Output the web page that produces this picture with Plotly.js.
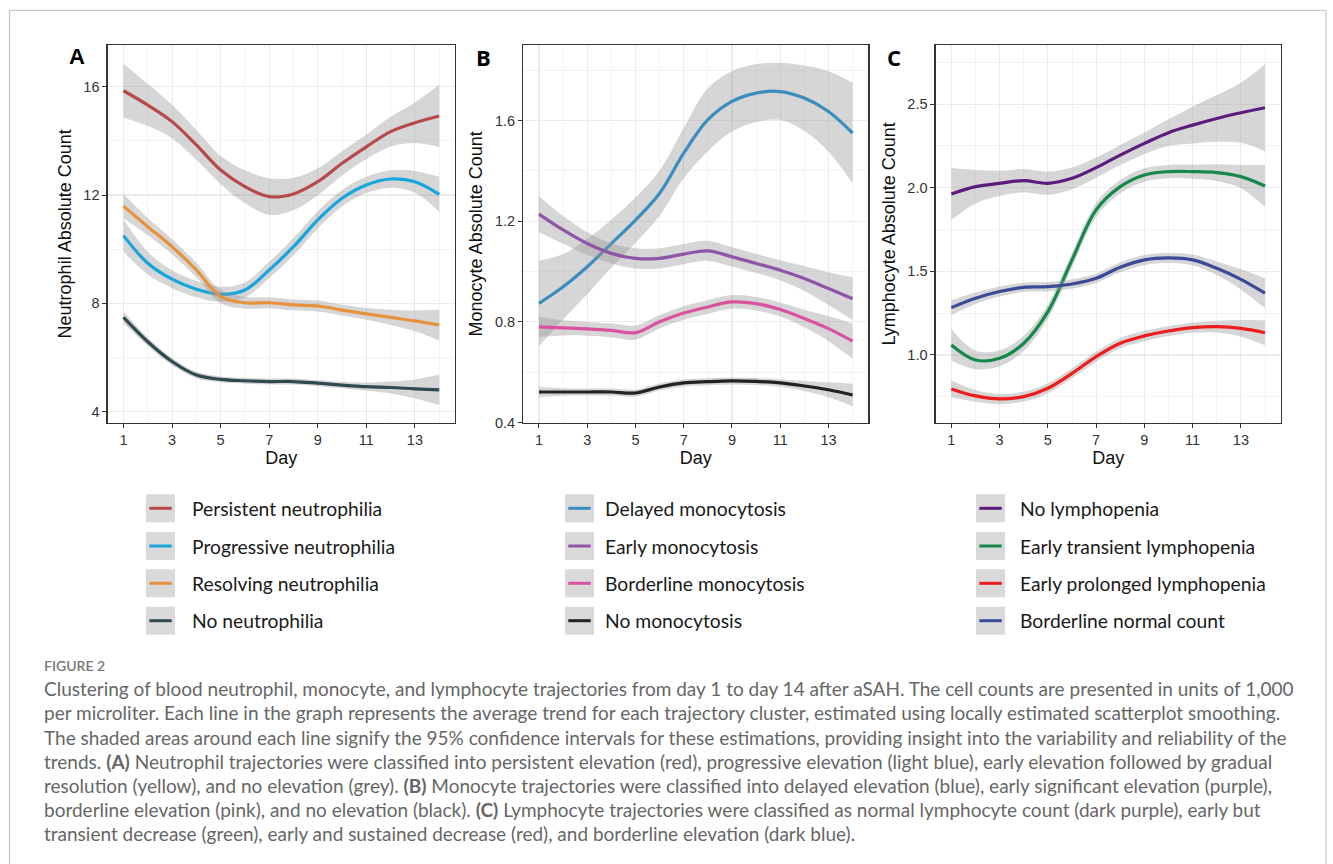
<!DOCTYPE html>
<html><head><meta charset="utf-8">
<script src="https://cdn.plot.ly/plotly-3.0.1.min.js"></script>
<style>html,body{margin:0;padding:0;background:#fff;}#chart{width:1333px;height:864px;}</style>
</head><body><div id="chart"></div>
<script>
// ---------------- DATA ----------------
const days = [1,2,3,4,5,6,7,8,9,10,11,12,13,14];
const xTickVals = [1,3,5,7,9,11,13];
const xMinorVals = [2,4,6,8,10,12,14];
const xTickText = ['1','3','5','7','9','11','13'];
const panelLabels = ['A','B','C'];
const yTitles = ['Neutrophil Absolute Count','Monocyte Absolute Count','Lymphocyte Absolute Count'];
const xTitle = 'Day';

const yTickValsA = [4,8,12,16];
const yTickTextA = ['4','8','12','16'];
const yMinorA = [6,10,14];
const yTickValsB = [0.4,0.8,1.2,1.6];
const yTickTextB = ['0.4','0.8','1.2','1.6'];
const yMinorB = [0.6,1.0,1.4,1.8];
const yTickValsC = [1.0,1.5,2.0,2.5];
const yTickTextC = ['1.0','1.5','2.0','2.5'];
const yMinorC = [0.75,1.25,1.75,2.25,2.75];

// Panel A: neutrophils
const neutrophilNames = ['Persistent neutrophilia','Progressive neutrophilia','Resolving neutrophilia','No neutrophilia'];
const persistentMean  = [15.85,15.32,14.71,13.85,12.92,12.31,11.94,12.04,12.49,13.17,13.78,14.34,14.67,14.92];
const persistentLower = [14.85,14.55,14.10,13.30,12.40,11.70,11.27,11.44,11.99,12.72,13.33,13.79,13.92,13.77];
const persistentUpper = [16.85,16.10,15.33,14.40,13.44,12.91,12.62,12.64,12.99,13.62,14.23,14.89,15.42,16.07];
const progressiveMean  = [10.50,9.48,8.89,8.52,8.33,8.49,9.23,10.09,11.08,11.88,12.37,12.59,12.49,12.02];
const progressiveLower = [9.90,9.06,8.56,8.22,8.05,8.21,8.93,9.77,10.76,11.58,12.07,12.27,12.09,11.37];
const progressiveUpper = [11.10,9.90,9.22,8.82,8.61,8.77,9.53,10.41,11.40,12.18,12.67,12.91,12.89,12.67];
const resolvingMean  = [11.59,10.83,10.09,9.23,8.25,8.02,8.02,7.94,7.90,7.75,7.61,7.48,7.35,7.20];
const resolvingLower = [11.14,10.51,9.81,8.96,8.00,7.80,7.82,7.74,7.70,7.55,7.39,7.20,6.97,6.63];
const resolvingUpper = [12.04,11.15,10.37,9.50,8.50,8.24,8.22,8.14,8.10,7.95,7.83,7.76,7.73,7.77];
const noNeutroMean  = [7.48,6.58,5.85,5.35,5.19,5.14,5.11,5.11,5.05,4.98,4.92,4.89,4.84,4.80];
const noNeutroLower = [7.26,6.42,5.71,5.23,5.08,5.03,5.00,5.00,4.94,4.86,4.77,4.67,4.49,4.23];
const noNeutroUpper = [7.70,6.74,5.99,5.47,5.30,5.25,5.22,5.22,5.16,5.10,5.07,5.11,5.19,5.37];

// Panel B: monocytes
const monocyteNames = ['Delayed monocytosis','Early monocytosis','Borderline monocytosis','No monocytosis'];
const delayedMean  = [0.873,0.939,1.019,1.111,1.204,1.311,1.470,1.603,1.676,1.709,1.715,1.689,1.636,1.550];
const delayedLower = [0.703,0.809,0.909,1.016,1.114,1.221,1.370,1.478,1.556,1.594,1.602,1.559,1.476,1.350];
const delayedUpper = [1.043,1.069,1.129,1.206,1.294,1.401,1.570,1.728,1.796,1.824,1.828,1.819,1.796,1.750];
const earlyMonoMean  = [1.228,1.165,1.111,1.072,1.052,1.052,1.069,1.082,1.058,1.032,1.005,0.972,0.932,0.892];
const earlyMonoLower = [1.156,1.110,1.066,1.032,1.012,1.012,1.029,1.042,1.020,0.994,0.965,0.922,0.867,0.807];
const earlyMonoUpper = [1.300,1.220,1.156,1.112,1.092,1.092,1.109,1.122,1.096,1.070,1.045,1.022,0.997,0.977];
const borderMonoMean  = [0.780,0.776,0.772,0.766,0.757,0.800,0.835,0.859,0.879,0.872,0.849,0.813,0.773,0.723];
const borderMonoLower = [0.740,0.746,0.745,0.739,0.729,0.773,0.808,0.832,0.852,0.845,0.821,0.778,0.723,0.653];
const borderMonoUpper = [0.820,0.806,0.799,0.793,0.785,0.827,0.862,0.886,0.906,0.899,0.877,0.848,0.823,0.793];
const noMonoMean  = [0.521,0.521,0.521,0.521,0.517,0.541,0.557,0.562,0.565,0.563,0.557,0.545,0.530,0.509];
const noMonoLower = [0.501,0.506,0.507,0.507,0.503,0.527,0.543,0.548,0.551,0.549,0.542,0.525,0.500,0.464];
const noMonoUpper = [0.541,0.536,0.535,0.535,0.531,0.555,0.571,0.576,0.579,0.577,0.572,0.565,0.560,0.554];

// Panel C: lymphocytes
const lymphocyteNames = ['No lymphopenia','Early transient lymphopenia','Early prolonged lymphopenia','Borderline normal count'];
const noLymphoMean  = [1.962,2.006,2.026,2.042,2.026,2.056,2.120,2.195,2.265,2.329,2.374,2.414,2.448,2.478];
const noLymphoLower = [1.807,1.906,1.951,1.972,1.956,1.991,2.060,2.135,2.200,2.249,2.264,2.274,2.268,2.218];
const noLymphoUpper = [2.117,2.106,2.101,2.112,2.096,2.121,2.180,2.255,2.330,2.409,2.484,2.554,2.628,2.738];
const transientMean  = [1.060,0.970,0.980,1.070,1.259,1.568,1.867,2.006,2.076,2.096,2.096,2.090,2.066,2.010];
const transientLower = [0.965,0.915,0.932,1.025,1.217,1.526,1.825,1.966,2.036,2.056,2.054,2.040,1.996,1.885];
const transientUpper = [1.155,1.025,1.028,1.115,1.301,1.610,1.909,2.046,2.116,2.136,2.138,2.140,2.136,2.135];
const prolongedMean  = [0.797,0.755,0.737,0.751,0.801,0.890,0.990,1.070,1.114,1.143,1.163,1.169,1.159,1.133];
const prolongedLower = [0.747,0.720,0.707,0.721,0.771,0.860,0.960,1.040,1.084,1.113,1.133,1.134,1.109,1.058];
const prolongedUpper = [0.847,0.790,0.767,0.781,0.831,0.920,1.020,1.100,1.144,1.173,1.193,1.204,1.209,1.208];
const borderNormMean  = [1.283,1.339,1.379,1.404,1.408,1.424,1.458,1.524,1.568,1.580,1.568,1.518,1.452,1.369];
const borderNormLower = [1.238,1.304,1.349,1.376,1.380,1.396,1.430,1.494,1.538,1.550,1.536,1.478,1.392,1.279];
const borderNormUpper = [1.328,1.374,1.409,1.432,1.436,1.452,1.486,1.554,1.598,1.610,1.600,1.558,1.512,1.459];

const captionHead = 'FIGURE 2';
const captionLines = [
 'Clustering of blood neutrophil, monocyte, and lymphocyte trajectories from day 1 to day 14 after aSAH. The cell counts are presented in units of 1,000',
 'per microliter. Each line in the graph represents the average trend for each trajectory cluster, estimated using locally estimated scatterplot smoothing.',
 'The shaded areas around each line signify the 95% confidence intervals for these estimations, providing insight into the variability and reliability of the',
 'trends. <b>(A)</b> Neutrophil trajectories were classified into persistent elevation (red), progressive elevation (light blue), early elevation followed by gradual',
 'resolution (yellow), and no elevation (grey). <b>(B)</b> Monocyte trajectories were classified into delayed elevation (blue), early significant elevation (purple),',
 'borderline elevation (pink), and no elevation (black). <b>(C)</b> Lymphocyte trajectories were classified as normal lymphocyte count (dark purple), early but',
 'transient decrease (green), early and sustained decrease (red), and borderline elevation (dark blue).'
];

// ---------------- STYLE / LAYOUT ----------------
const W = 1333, H = 864;
const px = p => p / W;
const py = p => 1 - p / H;

const panels = [
  {names: neutrophilNames, colors: ['#B8494A','#16A5DD','#E8913B','#2F4A50'],
   series: [[persistentMean,persistentLower,persistentUpper],[progressiveMean,progressiveLower,progressiveUpper],
            [resolvingMean,resolvingLower,resolvingUpper],[noNeutroMean,noNeutroLower,noNeutroUpper]],
   box: [107.7,455], yr: [3.59,17.54], tv: yTickValsA, tt: yTickTextA, mv: yMinorA,
   labelX: 77, legBox: 146, legText: 191.7},
  {names: monocyteNames, colors: ['#3A8DBF','#8E55A8','#D9519F','#222222'],
   series: [[delayedMean,delayedLower,delayedUpper],[earlyMonoMean,earlyMonoLower,earlyMonoUpper],
            [borderMonoMean,borderMonoLower,borderMonoUpper],[noMonoMean,noMonoLower,noMonoUpper]],
   box: [523.3,868.3], yr: [0.399,1.90], tv: yTickValsB, tt: yTickTextB, mv: yMinorB,
   labelX: 483, legBox: 565, legText: 604},
  {names: lymphocyteNames, colors: ['#5C1B7E','#15894B','#EE1C1C','#3B4999'],
   series: [[noLymphoMean,noLymphoLower,noLymphoUpper],[transientMean,transientLower,transientUpper],
            [prolongedMean,prolongedLower,prolongedUpper],[borderNormMean,borderNormLower,borderNormUpper]],
   box: [935.7,1280.7], yr: [0.595,2.853], tv: yTickValsC, tt: yTickTextC, mv: yMinorC,
   labelX: 894, legBox: 976, legText: 1019}
];

const plotTop = 45, plotBottom = 422.7;
const legRows = [508.3, 546, 583.3, 620.7];
const ribbonFill = 'rgba(153,153,153,0.4)';
const sans = 'Liberation Sans, Arial, sans-serif';
const tickFont = {family: sans, size: 14.5, color: '#333333'};

const traces = [];
const layout = {
  width: W, height: H, margin: {l:0,r:0,t:0,b:0},
  paper_bgcolor: '#ffffff', plot_bgcolor: '#ffffff',
  showlegend: false, shapes: [], annotations: []
};

panels.forEach((p, i) => {
  const sfx = i === 0 ? '' : String(i + 1);
  const xa = 'x' + sfx, ya = 'y' + sfx;
  p.series.forEach((s, j) => {
    traces.push({x: days, y: s[1], xaxis: xa, yaxis: ya, type: 'scatter', mode: 'lines',
      line: {width: 0, shape: 'spline', smoothing: 1}, hoverinfo: 'skip', showlegend: false});
    traces.push({x: days, y: s[2], xaxis: xa, yaxis: ya, type: 'scatter', mode: 'lines', fill: 'tonexty',
      fillcolor: ribbonFill, line: {width: 0, shape: 'spline', smoothing: 1}, hoverinfo: 'skip', showlegend: false});
    traces.push({x: days, y: s[0], xaxis: xa, yaxis: ya, type: 'scatter', mode: 'lines', name: p.names[j],
      line: {color: p.colors[j], width: 3.2, shape: 'spline', smoothing: 1}, showlegend: false});
  });
  const common = {
    showline: true, mirror: true, linecolor: '#333333', linewidth: 1.3,
    ticks: 'outside', ticklen: 4, tickwidth: 1, tickcolor: '#333333',
    showgrid: true, gridcolor: '#EBEBEB', gridwidth: 1.1, zeroline: false,
    tickfont: tickFont, fixedrange: true, automargin: false
  };
  layout['xaxis' + sfx] = Object.assign({}, common, {
    domain: [px(p.box[0]), px(p.box[1])], range: [0.35, 14.65], anchor: ya,
    tickmode: 'array', tickvals: xTickVals, ticktext: xTickText,
    minor: {tickmode: 'array', tickvals: xMinorVals, showgrid: true, gridcolor: '#EBEBEB', gridwidth: 0.6, ticks: ''},
    title: {text: xTitle, font: {family: sans, size: 18, color: '#111'}, standoff: 2}
  });
  layout['yaxis' + sfx] = Object.assign({}, common, {
    domain: [py(plotBottom), py(plotTop)], range: p.yr, anchor: xa,
    tickmode: 'array', tickvals: p.tv, ticktext: p.tt,
    minor: {tickmode: 'array', tickvals: p.mv, showgrid: true, gridcolor: '#EBEBEB', gridwidth: 0.6, ticks: ''},
    title: {text: yTitles[i], font: {family: sans, size: 18, color: '#111'}, standoff: 7}
  });
  // panel letter
  layout.annotations.push({xref: 'paper', yref: 'paper', x: px(p.labelX), y: py(57), xanchor: 'center', yanchor: 'middle',
    text: '<b>' + panelLabels[i] + '</b>', showarrow: false,
    font: {family: i === 0 ? sans : 'Open Sans, sans-serif', size: 22, color: '#000'}});
  // legend
  p.names.forEach((nm, j) => {
    const cy = legRows[j];
    layout.shapes.push({type: 'rect', xref: 'paper', yref: 'paper', x0: px(p.legBox), x1: px(p.legBox + 29),
      y0: py(cy + 14), y1: py(cy - 14), fillcolor: '#D9D9D9', line: {width: 0}, layer: 'above'});
    layout.shapes.push({type: 'line', xref: 'paper', yref: 'paper', x0: px(p.legBox + 3.3), x1: px(p.legBox + 25.7),
      y0: py(cy), y1: py(cy), line: {color: p.colors[j], width: 3}, layer: 'above'});
    layout.annotations.push({xref: 'paper', yref: 'paper', x: px(p.legText - 1.5), y: py(cy), xanchor: 'left', yanchor: 'middle',
      text: nm, showarrow: false, font: {family: 'Lato, sans-serif', size: 19.3, color: '#1a1a1a'}});
  });
});

// frame
layout.shapes.push({type: 'path', xref: 'paper', yref: 'paper',
  path: `M ${px(9.5)} ${py(900)} L ${px(9.5)} ${py(10.3)} L ${px(1326)} ${py(10.3)} L ${px(1326)} ${py(900)}`,
  line: {color: '#BDBDBD', width: 1}, layer: 'above'});

// caption
layout.annotations.push({xref: 'paper', yref: 'paper', x: px(41.5), y: py(665.5), xanchor: 'left', yanchor: 'middle',
  text: captionHead, showarrow: false, font: {family: 'Lato, sans-serif', size: 14, color: '#777777', weight: 600}});
const capY = [688, 712.5, 737, 761.3, 785.5, 809.5, 833];
captionLines.forEach((t, k) => {
  layout.annotations.push({xref: 'paper', yref: 'paper', x: px(41.5), y: py(capY[k]), xanchor: 'left', yanchor: 'middle',
    text: t, showarrow: false, font: {family: 'Lato, sans-serif', size: 19, color: '#666666'}});
});

Plotly.newPlot('chart', traces, layout, {displayModeBar: false, staticPlot: true});
</script></body></html>
